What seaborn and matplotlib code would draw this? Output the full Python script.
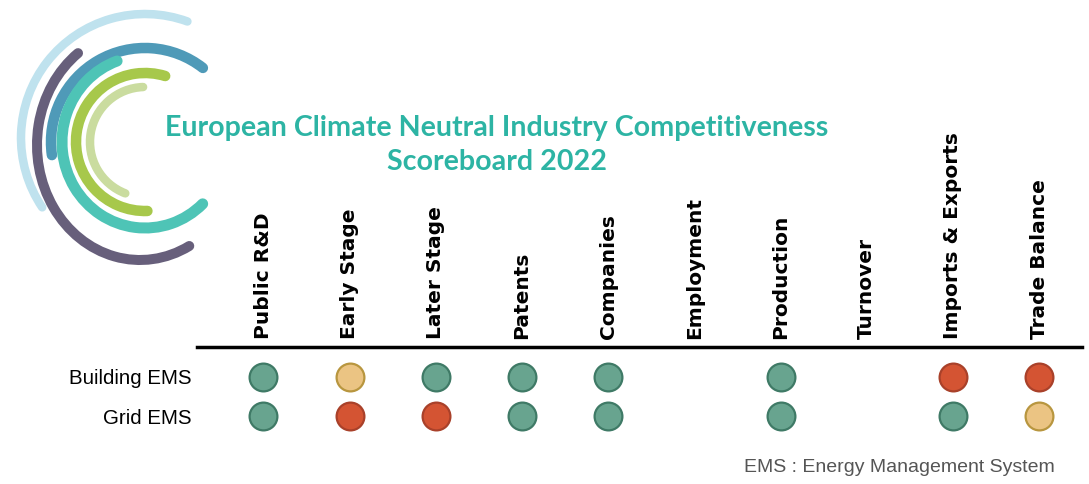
import matplotlib
matplotlib.use("Agg")
import matplotlib.pyplot as plt
from matplotlib.patches import Arc
import seaborn as sns
import pandas as pd

# ---- data ----
categories = ["Public R&D", "Early Stage", "Later Stage", "Patents", "Companies",
              "Employment", "Production", "Turnover", "Imports & Exports", "Trade Balance"]
rows = ["Building EMS", "Grid EMS"]
building_status = ["good", "medium", "good", "good", "good", None, "good", None, "bad", "bad"]
grid_status = ["good", "bad", "bad", "good", "good", None, "good", None, "good", "medium"]
title = "European Climate Neutral Industry Competitiveness\nScoreboard 2022"
footnote = "EMS : Energy Management System"

fills = {"good": "#68a48f", "medium": "#ebc483", "bad": "#d45433"}
edges = {"good": "#3f7a66", "medium": "#b8963f", "bad": "#a9412a"}

records = []
for r, statuses in zip(rows, [building_status, grid_status]):
    for i, (c, s) in enumerate(zip(categories, statuses)):
        if s is not None:
            records.append({"row": rows.index(r), "col": i, "status": s})
df = pd.DataFrame(records)

sns.set_style("white")
W, H = 1089, 484
fig = plt.figure(figsize=(W / 100, H / 100), dpi=100)

# ---- logo (decorative) ----
lax = fig.add_axes([0, 0, 1, 1])
lax.set_xlim(0, W)
lax.set_ylim(0, H)
lax.axis("off")
arcs = [  # cx, cy, w, h, theta1, theta2, color, width(px)
    (145, 138, 248, 248, 70, 214, "#bfe2ee", 8.5),
    (140, 145, 206, 230, 124, 296, "#675f7b", 10),
    (145, 142, 188, 188, 52, 188, "#4f9ab8", 10.5),
    (145, 142, 166, 172, 109, 313, "#4ec4b6", 11),
    (145, 142, 138, 138, 73, 272, "#a7c84b", 10.5),
    (145, 142, 110, 110, 92, 249, "#cadc9f", 8.5),
]
for cx, cy, w, h, t1, t2, col, lw in arcs:
    lax.add_patch(Arc((cx, H - cy), w, h, theta1=t1, theta2=t2,
                      color=col, lw=lw * 0.72, capstyle="round"))

fig.text(497 / W, 1 - 145 / H, title, ha="center", va="center", color="#2db4a4",
         fontsize=20.6, fontweight="bold", family="Lato", linespacing=1.4)
fig.text(1055 / W, 1 - 468 / H, footnote, ha="right", va="center", color="#555555",
         fontsize=14, family="Liberation Sans")

# ---- scoreboard axes ----
x0, x1, ytop, ybot = 197, 1082, 347, 440
ax = fig.add_axes([x0 / W, 1 - ybot / H, (x1 - x0) / W, (ybot - ytop) / H])
for st in ["good", "medium", "bad"]:
    sub = df[df["status"] == st]
    sns.scatterplot(data=sub, x="col", y="row", ax=ax, s=400, color=fills[st],
                    edgecolor=edges[st], linewidth=1.6, legend=False, zorder=3)

unit = 86.19
ax.set_xlim(-(263.4 - x0) / unit, (x1 - 263.4) / unit)
ax.set_ylim(1 + (ybot - 416) / 39, -(377 - ytop) / 39)
ax.set_xlabel("")
ax.set_ylabel("")
ax.xaxis.tick_top()
ax.set_xticks(range(len(categories)))
ax.set_xticklabels(categories, rotation=90, fontsize=14.5, fontweight="bold",
                   family="DejaVu Sans", color="black")
ax.tick_params(axis="x", length=0, pad=6)
ax.set_yticks(range(len(rows)))
ax.set_yticklabels(rows, fontsize=14.8, family="Liberation Sans", color="black")
ax.tick_params(axis="y", length=0, pad=4)
for side in ["left", "right", "bottom"]:
    ax.spines[side].set_visible(False)
ax.spines["top"].set_color("black")
ax.spines["top"].set_linewidth(2.5)
ax.set_facecolor("none")

fig.savefig("out.png", dpi=100)
